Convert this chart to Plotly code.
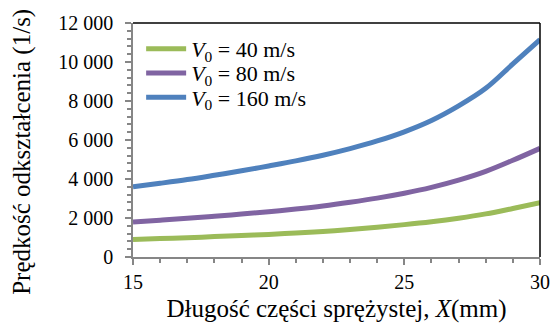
import plotly.graph_objects as go

x_mm = [15, 16, 17, 18, 19, 20, 21, 22, 23, 24, 25, 26, 27, 28, 29, 30]
v40 = [900, 945, 990, 1045, 1100, 1160, 1230, 1310, 1410, 1530, 1660, 1810, 1990, 2210, 2490, 2790]
v80 = [1800, 1890, 1985, 2090, 2200, 2320, 2460, 2620, 2810, 3020, 3270, 3570, 3940, 4390, 4960, 5570]
v160 = [3600, 3780, 3970, 4190, 4420, 4670, 4930, 5220, 5560, 5950, 6420, 7000, 7750, 8650, 9900, 11150]

names = ["<i>V</i><sub>0</sub> = 40 m/s", "<i>V</i><sub>0</sub> = 80 m/s", "<i>V</i><sub>0</sub> = 160 m/s"]
series = [v40, v80, v160]
colors = ["#9BBB59", "#8064A2", "#4F81BD"]
legend_ids = ["legend", "legend2", "legend3"]
legend_rows = [0.889, 0.786, 0.682]

FONT = "Liberation Serif"

fig = go.Figure()
for nm, ys, c, lg in zip(names, series, colors, legend_ids):
    fig.add_trace(go.Scatter(x=x_mm, y=ys, name=nm, mode="lines", legend=lg,
                             line=dict(color=c, width=5, shape="spline", smoothing=1.0)))

legend_style = {}
for lg, yr in zip(legend_ids, legend_rows):
    legend_style[lg] = dict(x=0.02, y=yr, xanchor="left", yanchor="middle",
                            bgcolor="rgba(0,0,0,0)", font=dict(family=FONT, size=22, color="black"),
                            itemwidth=40)

axis_gray = "#868686"
fig.update_layout(
    width=551, height=327,
    margin=dict(l=133, r=11, t=23, b=70),
    paper_bgcolor="white", plot_bgcolor="white",
    separators=". ",
    font=dict(family=FONT, size=19, color="black"),
    showlegend=True,
    xaxis=dict(range=[15, 30], tickvals=[15, 20, 25, 30], showgrid=False, zeroline=False,
               automargin=False,
               showline=True, linecolor=axis_gray, linewidth=1.5,
               ticks="outside", ticklen=6, tickcolor=axis_gray, tickwidth=1.5,
               minor=dict(dtick=1, ticks="outside", ticklen=4, tickcolor=axis_gray, tickwidth=1.5),
               tickfont=dict(family=FONT, size=20, color="black"),
               title=dict(text="Długość części sprężystej, <i>X</i>(mm)", font=dict(family=FONT, size=25), standoff=8)),
    yaxis=dict(range=[0, 12000], dtick=2000, tickformat=",d", showgrid=False, zeroline=False,
               automargin=False,
               showline=True, linecolor=axis_gray, linewidth=1.5,
               ticks="outside", ticklen=6, tickcolor=axis_gray, tickwidth=1.5,
               minor=dict(dtick=400, ticks="outside", ticklen=4, tickcolor=axis_gray, tickwidth=1.5),
               tickfont=dict(family=FONT, size=20, color="black"), ticklabelstandoff=8),
    shapes=[
        dict(type="line", xref="paper", yref="paper", x0=0, x1=1, y0=1, y1=1, line=dict(color="black", width=1.5)),
        dict(type="line", xref="paper", yref="paper", x0=1, x1=1, y0=0, y1=1, line=dict(color="black", width=1.5)),
    ],
    annotations=[dict(text="Prędkość odkształcenia (1/s)", textangle=-90, xref="paper", yref="paper",
                      x=-0.273, y=0.449, xanchor="center", yanchor="middle", showarrow=False,
                      font=dict(family=FONT, size=25))],
    **legend_style,
)

fig.write_html("out.html", config={"displayModeBar": False},
               post_script="document.body.style.margin='0';")
